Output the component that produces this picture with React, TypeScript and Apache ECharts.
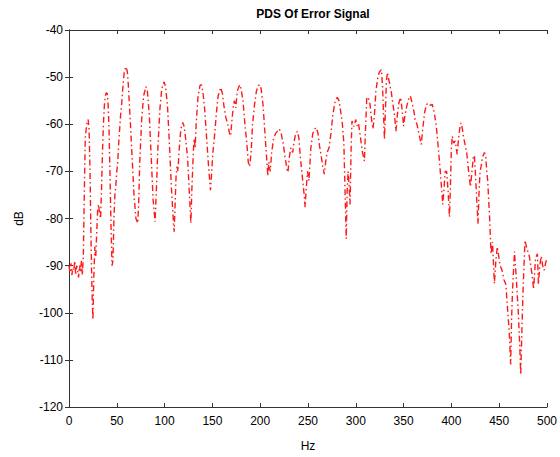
import React, { useEffect, useRef } from "react";
import * as echarts from "echarts";

// Frequency bins (Hz) and the matching power spectral density of the error signal (dB)
const freqHz: number[] = [
  0, 1, 2, 3, 4, 5, 6, 7, 8, 9, 10, 11, 12, 13, 14, 15, 16, 17, 18, 19, 20, 21, 22, 23, 24, 25, 26, 27, 28, 29,
  30, 31, 32, 33, 34, 35, 36, 37, 38, 39, 40, 41, 42, 43, 44, 45, 46, 47, 48, 49, 50, 51, 52, 53, 54, 55, 56, 57,
  58, 59.6, 61, 62, 64, 66, 68, 70, 72, 73, 74, 76, 78, 80.5, 82, 84, 86, 88, 90, 91, 93, 95, 97, 99.5, 101, 103,
  105, 107, 109, 110, 111, 112, 113, 114, 115, 117, 119, 120.5, 122, 124, 125.5, 127.5, 128.5, 130, 131, 132, 133,
  135, 137, 138.5, 140, 142, 144, 146, 148, 149, 150.5, 152, 154, 156, 158.7, 160.5, 162, 164, 166, 168, 169, 170.5,
  172, 173, 174.5, 176, 178.5, 180, 182, 184, 186, 187.5, 189, 190.5, 192, 194, 196, 198, 199.5, 201, 203, 205, 207,
  208, 209, 210.5, 212, 214, 216, 218, 220, 222, 224, 226, 228, 229, 230.5, 232, 234, 235, 237, 239, 240.5, 242, 244,
  246, 247, 248, 249.5, 251, 253, 255, 257, 258.7, 260.5, 262, 264, 265.5, 267, 268.5, 270, 272, 274, 276, 278, 280.6,
  282.5, 284, 286, 287.5, 288.5, 290, 291, 292, 293, 294, 295, 296, 298, 300, 301.5, 303, 305, 307, 309, 310, 311.5,
  313, 315, 316.5, 318, 319.5, 321, 323, 324.5, 326.7, 328, 329, 330, 331, 332, 333, 335, 337, 339, 340.5, 342, 343.5,
  345, 347, 348.5, 350, 351.5, 353.5, 355.5, 357, 359, 361, 362, 364, 366, 368.5, 370, 372, 374, 376, 378, 380, 382,
  384, 386, 388, 389.5, 391, 392.5, 393.5, 395, 396.5, 398, 399, 400, 401, 402.5, 404, 406, 407.5, 409, 410, 411.5,
  413, 414.5, 416, 418, 420, 421.5, 423, 424, 425, 426.5, 427.8, 429, 430, 431, 432.5, 434.6, 436, 437, 438, 440,
  441.5, 443, 445, 446.5, 448, 449.5, 451, 453, 455, 457, 459, 460.5, 462, 463, 464, 466, 468, 470, 471.5, 472.5,
  474, 475, 477, 478.5, 480, 481.5, 483, 484.5, 486, 488, 490, 491, 492.5, 494, 495.5, 497, 498.5, 500,
];

const psdDb: number[] = [
  -90, -91.5, -89.5, -92, -90.5, -91, -89, -92, -90, -91, -92.5, -90, -91.5, -89, -92, -88, -75, -63, -61, -59.5,
  -59, -61, -70, -84, -95, -101.5, -92, -86, -88, -83, -78, -77, -79, -80, -74, -66, -60, -56, -54, -53.3, -53.5,
  -56, -62, -72, -82, -90, -89, -80, -75, -73, -70, -68, -64, -61, -58, -56, -53, -50.5, -48.6, -47.8, -48.8, -51.5,
  -59, -67, -75, -80, -81, -76, -68, -59, -54, -52, -53, -58, -67, -76, -80.7, -76, -65, -57, -52.5, -51, -52, -56,
  -64, -73, -80, -82.8, -77, -71, -69, -70, -66, -61, -59.6, -60.5, -63, -67, -73, -81, -74, -66, -63, -65, -60,
  -54, -51.8, -51.6, -53, -57, -63, -69, -74, -71, -66, -63, -58, -54, -52.2, -53.5, -56, -58.5, -60, -62, -62.5,
  -59, -56, -55, -56.5, -53, -51.6, -52.5, -55, -60, -64, -68, -69, -66, -60, -56, -53, -51.8, -51.6, -52.5, -56,
  -62, -68, -71, -68, -70, -66, -63, -62, -61.5, -61, -62, -64, -67, -69.5, -70.2, -67, -65, -66, -64.3, -62, -61.5,
  -63, -67, -71, -75, -77.6, -74, -70, -72, -65, -62, -61, -60.7, -62, -64.5, -67, -69, -70.6, -68, -66, -65, -62,
  -58, -55.5, -54.3, -55, -57, -60, -64, -72, -84.3, -74, -70, -73, -77, -66, -59.3, -60.5, -59, -60.5, -60, -63,
  -66, -67.8, -62, -54.3, -54.3, -56, -59, -61, -58, -53, -50.2, -49, -48.4, -52, -58, -63.2, -57, -51, -49, -51,
  -53, -56, -58, -61.5, -58, -55.5, -54.3, -57, -60.4, -58, -56, -54.5, -54, -55.5, -57.5, -59, -60, -62, -64.3,
  -61, -57.5, -55.8, -55.5, -56, -55.8, -57.5, -60, -64.3, -69, -73, -77, -73, -70, -70, -74, -79.7, -73, -65, -62.5,
  -64, -63.5, -66.4, -63, -60.5, -59.7, -61, -63, -64.5, -66, -70, -73.3, -70, -67, -66.6, -70, -76, -81.1, -74,
  -70, -69, -67, -66, -67, -70, -72, -80, -87.5, -85, -93.8, -89, -86, -88, -90, -91, -93, -94, -100, -104, -111,
  -101, -95, -87, -93, -100, -107, -113.2, -102, -95, -84.6, -86, -87, -88, -90, -92, -95, -88.5, -87.5, -94, -90,
  -88, -90, -91, -89.5, -88.5,
];

const xTicks = { min: 0, max: 500, interval: 50 };
const yTicks = { min: -120, max: -40, interval: 10 };

const FONT = "Liberation Sans, Arial, sans-serif";

export default function App() {
  const ref = useRef<HTMLDivElement>(null);

  useEffect(() => {
    if (!ref.current) return;
    const chart = echarts.init(ref.current, undefined, { renderer: "svg" });
    const points = freqHz.map((f, i) => [f, psdDb[i]]);

    const boxAxis = {
      axisLine: { show: true, lineStyle: { color: "#333", width: 1 } },
      axisTick: { show: true, inside: true, length: 4, lineStyle: { color: "#333" } },
      axisLabel: { show: false },
      splitLine: { show: false },
    };

    chart.setOption({
      animation: false,
      backgroundColor: "#ffffff",
      title: {
        text: "PDS Of Error Signal",
        left: 308,
        top: 3,
        textAlign: "center",
        textStyle: { fontFamily: FONT, fontSize: 12, fontWeight: "bold", color: "#000" },
      },
      grid: { left: 69, top: 30, right: 13, bottom: 48 },
      xAxis: [
        {
          type: "value",
          position: "bottom",
          ...xTicks,
          name: "Hz",
          nameLocation: "middle",
          nameGap: 33,
          nameTextStyle: { fontFamily: FONT, fontSize: 12, color: "#000" },
          axisLine: { show: true, lineStyle: { color: "#333", width: 1 } },
          axisTick: { show: true, inside: true, length: 4, lineStyle: { color: "#333" } },
          axisLabel: { fontFamily: FONT, fontSize: 12, color: "#000", margin: 8 },
          splitLine: { show: false },
        },
        { type: "value", position: "top", ...xTicks, ...boxAxis },
      ],
      yAxis: [
        {
          type: "value",
          position: "left",
          ...yTicks,
          name: "dB",
          nameLocation: "middle",
          nameGap: 44,
          nameTextStyle: { fontFamily: FONT, fontSize: 12, color: "#000" },
          axisLine: { show: true, lineStyle: { color: "#333", width: 1 } },
          axisTick: { show: true, inside: true, length: 4, lineStyle: { color: "#333" } },
          axisLabel: { fontFamily: FONT, fontSize: 12, color: "#000", margin: 6 },
          splitLine: { show: false },
        },
        { type: "value", position: "right", ...yTicks, ...boxAxis },
      ],
      series: [
        {
          type: "line",
          data: points,
          showSymbol: false,
          symbol: "none",
          clip: true,
          lineStyle: { color: "#ff1a1a", width: 1.4, type: [6, 3, 1.5, 3] },
        },
      ],
    });

    return () => chart.dispose();
  }, []);

  return (
    <div
      ref={ref}
      style={{ position: "fixed", left: 0, top: 0, width: 560, height: 457, background: "#fff" }}
    />
  );
}
